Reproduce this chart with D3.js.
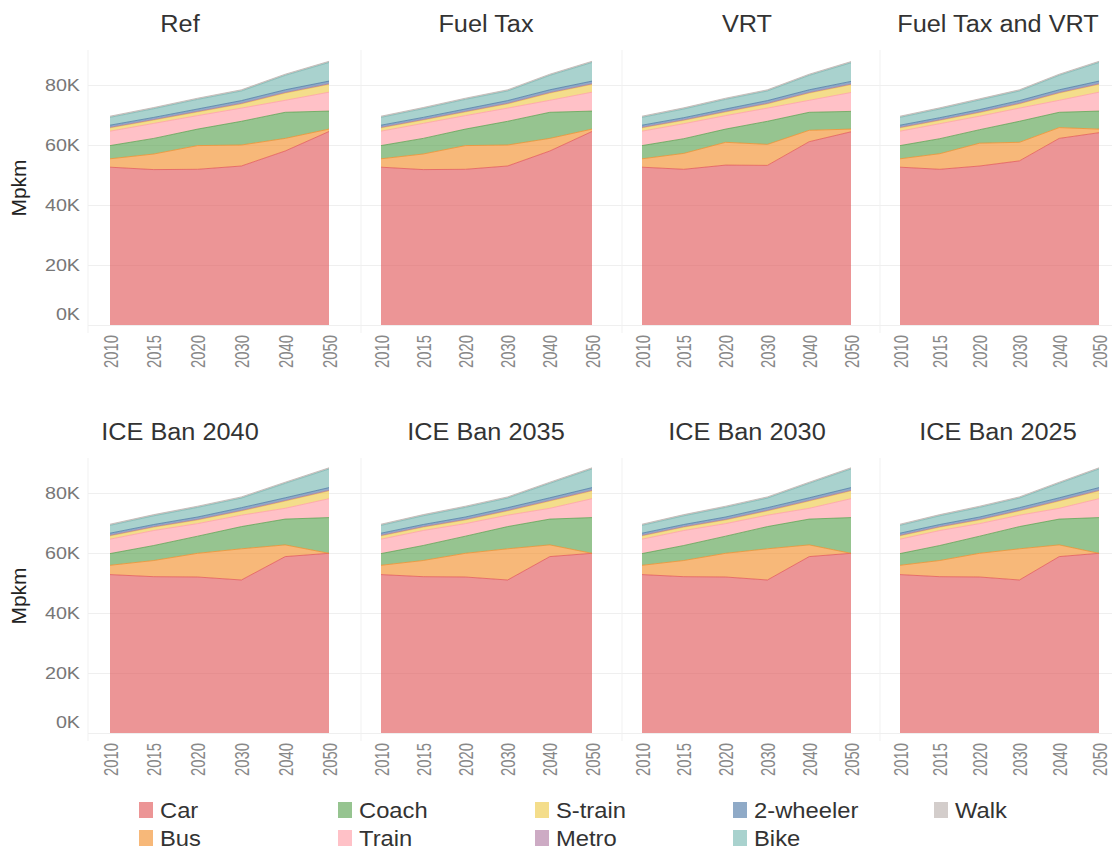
<!DOCTYPE html>
<html>
<head>
<meta charset="utf-8">
<script src="https://cdn.jsdelivr.net/npm/d3@7"></script>
<style>
  body { margin: 0; background: #fff; }
  svg { display: block; font-family: "Liberation Sans", Arial, sans-serif; }
</style>
</head>
<body>
<svg id="chart" width="1112" height="851"></svg>
<script>
// ---- data (passenger transport demand, Mpkm) ----
const years = ["2010", "2015", "2020", "2030", "2040", "2050"];
const modes = ["Car", "Bus", "Coach", "Train", "S-train", "Metro", "2-wheeler", "Bike", "Walk"];
const modeColors = ["#E15759", "#F28E2B", "#59A14F", "#FF9DA7", "#EDC948", "#B07AA1", "#4E79A7", "#76B7B2", "#BAB0AC"];
const scenarios = ["Ref", "Fuel Tax", "VRT", "Fuel Tax and VRT", "ICE Ban 2040", "ICE Ban 2035", "ICE Ban 2030", "ICE Ban 2025"];
const yTicks = [0, 20000, 40000, 60000, 80000];

// modes that change between scenarios
const carRef   = [52600, 51800, 51900, 53000, 58000, 64500];
const busRef   = [2800, 5200, 7900, 7000, 4200, 800];
const coachRef = [4400, 5200, 5500, 7900, 8700, 6000];
const trainRef = [4800, 5000, 4500, 4400, 4000, 6300];

const carVrt   = [52600, 51900, 53300, 53200, 61100, 64400];
const busVrt   = [2800, 5300, 7600, 7000, 3800, 900];
const coachVrt = [4400, 4900, 4400, 7700, 6000, 5900];

const carFtVrt   = [52600, 51900, 53000, 54700, 62200, 64100];
const busFtVrt   = [2800, 5200, 7600, 6200, 3600, 1200];
const coachFtVrt = [4400, 5000, 4500, 7000, 5100, 6000];

const carIce   = [52800, 52100, 52000, 51000, 58800, 59900];
const busIce   = [3100, 5400, 7900, 10400, 3900, 0];
const coachIce = [3900, 5000, 5700, 7400, 8600, 11900];
const trainIce = [4800, 5000, 4200, 3800, 3600, 6300];

// modes shared by every scenario
const sTrain    = [1100, 1100, 1200, 1400, 2400, 2600];
const metro     = [200, 200, 200, 200, 200, 200];
const twoWheel  = [700, 700, 800, 900, 900, 900];
const bike      = [2600, 2900, 3200, 3200, 4800, 6200];
const walk      = [400, 400, 400, 400, 400, 400];

const variableByScenario = {
  "Ref":              [carRef, busRef, coachRef, trainRef],
  "Fuel Tax":         [carRef, busRef, coachRef, trainRef],
  "VRT":              [carVrt, busVrt, coachVrt, trainRef],
  "Fuel Tax and VRT": [carFtVrt, busFtVrt, coachFtVrt, trainRef],
  "ICE Ban 2040":     [carIce, busIce, coachIce, trainIce],
  "ICE Ban 2035":     [carIce, busIce, coachIce, trainIce],
  "ICE Ban 2030":     [carIce, busIce, coachIce, trainIce],
  "ICE Ban 2025":     [carIce, busIce, coachIce, trainIce]
};

// ---- layout ----
const plotX  = [[110, 329], [381, 592], [642, 851], [900, 1099]];
const cellX  = [[88, 361], [361, 622], [622, 880], [880, 1112]];
const titleX = [180, 486, 747, 998];
const rowBase = [325, 733];
const plotH = 240;
const fillOpacity = 0.63;

const svg = d3.select("#chart");
const color = d3.scaleOrdinal().domain(modes).range(modeColors);
const fmtK = d => d3.format("d")(d / 1000) + "K";

// stretch horizontal text a little wider than the font's natural width
function widen(sel, k) {
  sel.each(function () {
    const w = this.getComputedTextLength();
    d3.select(this).attr("textLength", w * k).attr("lengthAdjust", "spacingAndGlyphs");
  });
}

scenarios.forEach((name, i) => {
  const col = i % 4, row = Math.floor(i / 4);
  const base = rowBase[row];
  const g = svg.append("g");

  const x = d3.scalePoint().domain(years).range(plotX[col]);
  const y = d3.scaleLinear().domain([0, 80000]).range([base, base - plotH]);

  const v = variableByScenario[name];
  const series = [v[0], v[1], v[2], v[3], sTrain, metro, twoWheel, bike, walk];
  const table = years.map((yr, j) => {
    const r = { year: yr };
    modes.forEach((m, k) => { r[m] = series[k][j]; });
    return r;
  });
  const stacked = d3.stack().keys(modes)(table);

  // cell frame line
  g.append("line")
    .attr("x1", cellX[col][0]).attr("x2", cellX[col][0])
    .attr("y1", base - 275).attr("y2", base + 8)
    .attr("stroke", "#f1f1f1").attr("stroke-width", 1);

  // gridlines + y labels
  const yAxis = d3.axisLeft(y).tickValues(yTicks)
    .tickSize(-(cellX[col][1] - cellX[col][0]))
    .tickPadding(8)
    .tickFormat(col === 0 ? fmtK : "");
  const ya = g.append("g").attr("transform", `translate(${cellX[col][0]},0)`).call(yAxis);
  ya.select(".domain").remove();
  ya.selectAll(".tick line").attr("stroke", "#efefef");
  ya.selectAll(".tick text")
    .attr("fill", "#777").style("font-size", "17px")
    .style("font-family", "'Liberation Sans', Arial, sans-serif");
  ya.selectAll(".tick").filter(d => d === 0).select("text").attr("dy", "-0.35em");
  if (col === 0) widen(ya.selectAll(".tick text"), 1.16);

  // stacked areas
  const area = d3.area()
    .x(d => x(d.data.year))
    .y0(d => y(d[0]))
    .y1(d => y(d[1]));
  const line = d3.line()
    .x(d => x(d.data.year))
    .y(d => y(d[1]));

  g.selectAll("path.area").data(stacked).join("path")
    .attr("class", "area")
    .attr("d", area)
    .attr("fill", s => color(s.key))
    .attr("fill-opacity", fillOpacity);

  g.selectAll("path.edge").data(stacked).join("path")
    .attr("class", "edge")
    .attr("d", line)
    .attr("fill", "none")
    .attr("stroke", s => color(s.key))
    .attr("stroke-opacity", 0.75)
    .attr("stroke-width", 1);

  // x axis labels (rotated)
  const xAxis = d3.axisBottom(x).tickSize(0);
  const xa = g.append("g").attr("transform", `translate(0,${base})`).call(xAxis);
  xa.select(".domain").remove();
  xa.selectAll(".tick text")
    .attr("transform", "rotate(-90)")
    .attr("x", -10).attr("y", 0).attr("dy", "0.35em")
    .attr("text-anchor", "end")
    .attr("fill", "#888")
    .style("font-size", "20px")
    .style("font-family", "'Liberation Sans', Arial, sans-serif")
    .attr("textLength", 33).attr("lengthAdjust", "spacingAndGlyphs");

  // panel title
  const t = svg.append("text")
    .attr("x", titleX[col]).attr("y", base - 293)
    .attr("text-anchor", "middle")
    .attr("fill", "#333")
    .style("font-size", "23px")
    .text(name);
  widen(t, 1.1);

  // y axis title
  if (col === 0) {
    svg.append("text")
      .attr("transform", `translate(26,${base - 137}) rotate(-90)`)
      .attr("text-anchor", "middle")
      .attr("fill", "#222")
      .style("font-size", "21px")
      .text("Mpkm");
  }
});

// ---- legend ----
const legendX = [139, 338, 535, 733, 934];
const legendY = [810, 838];
const legend = svg.append("g");
modes.forEach((m, k) => {
  const lx = legendX[Math.floor(k / 2)], ly = legendY[k % 2];
  legend.append("rect")
    .attr("x", lx).attr("y", ly - 8).attr("width", 14).attr("height", 16)
    .attr("fill", color(m)).attr("fill-opacity", fillOpacity);
  const lt = legend.append("text")
    .attr("x", lx + 21).attr("y", ly).attr("dy", "0.35em")
    .attr("fill", "#333")
    .style("font-size", "22px")
    .text(m);
  widen(lt, 1.08);
});
</script>
</body>
</html>
